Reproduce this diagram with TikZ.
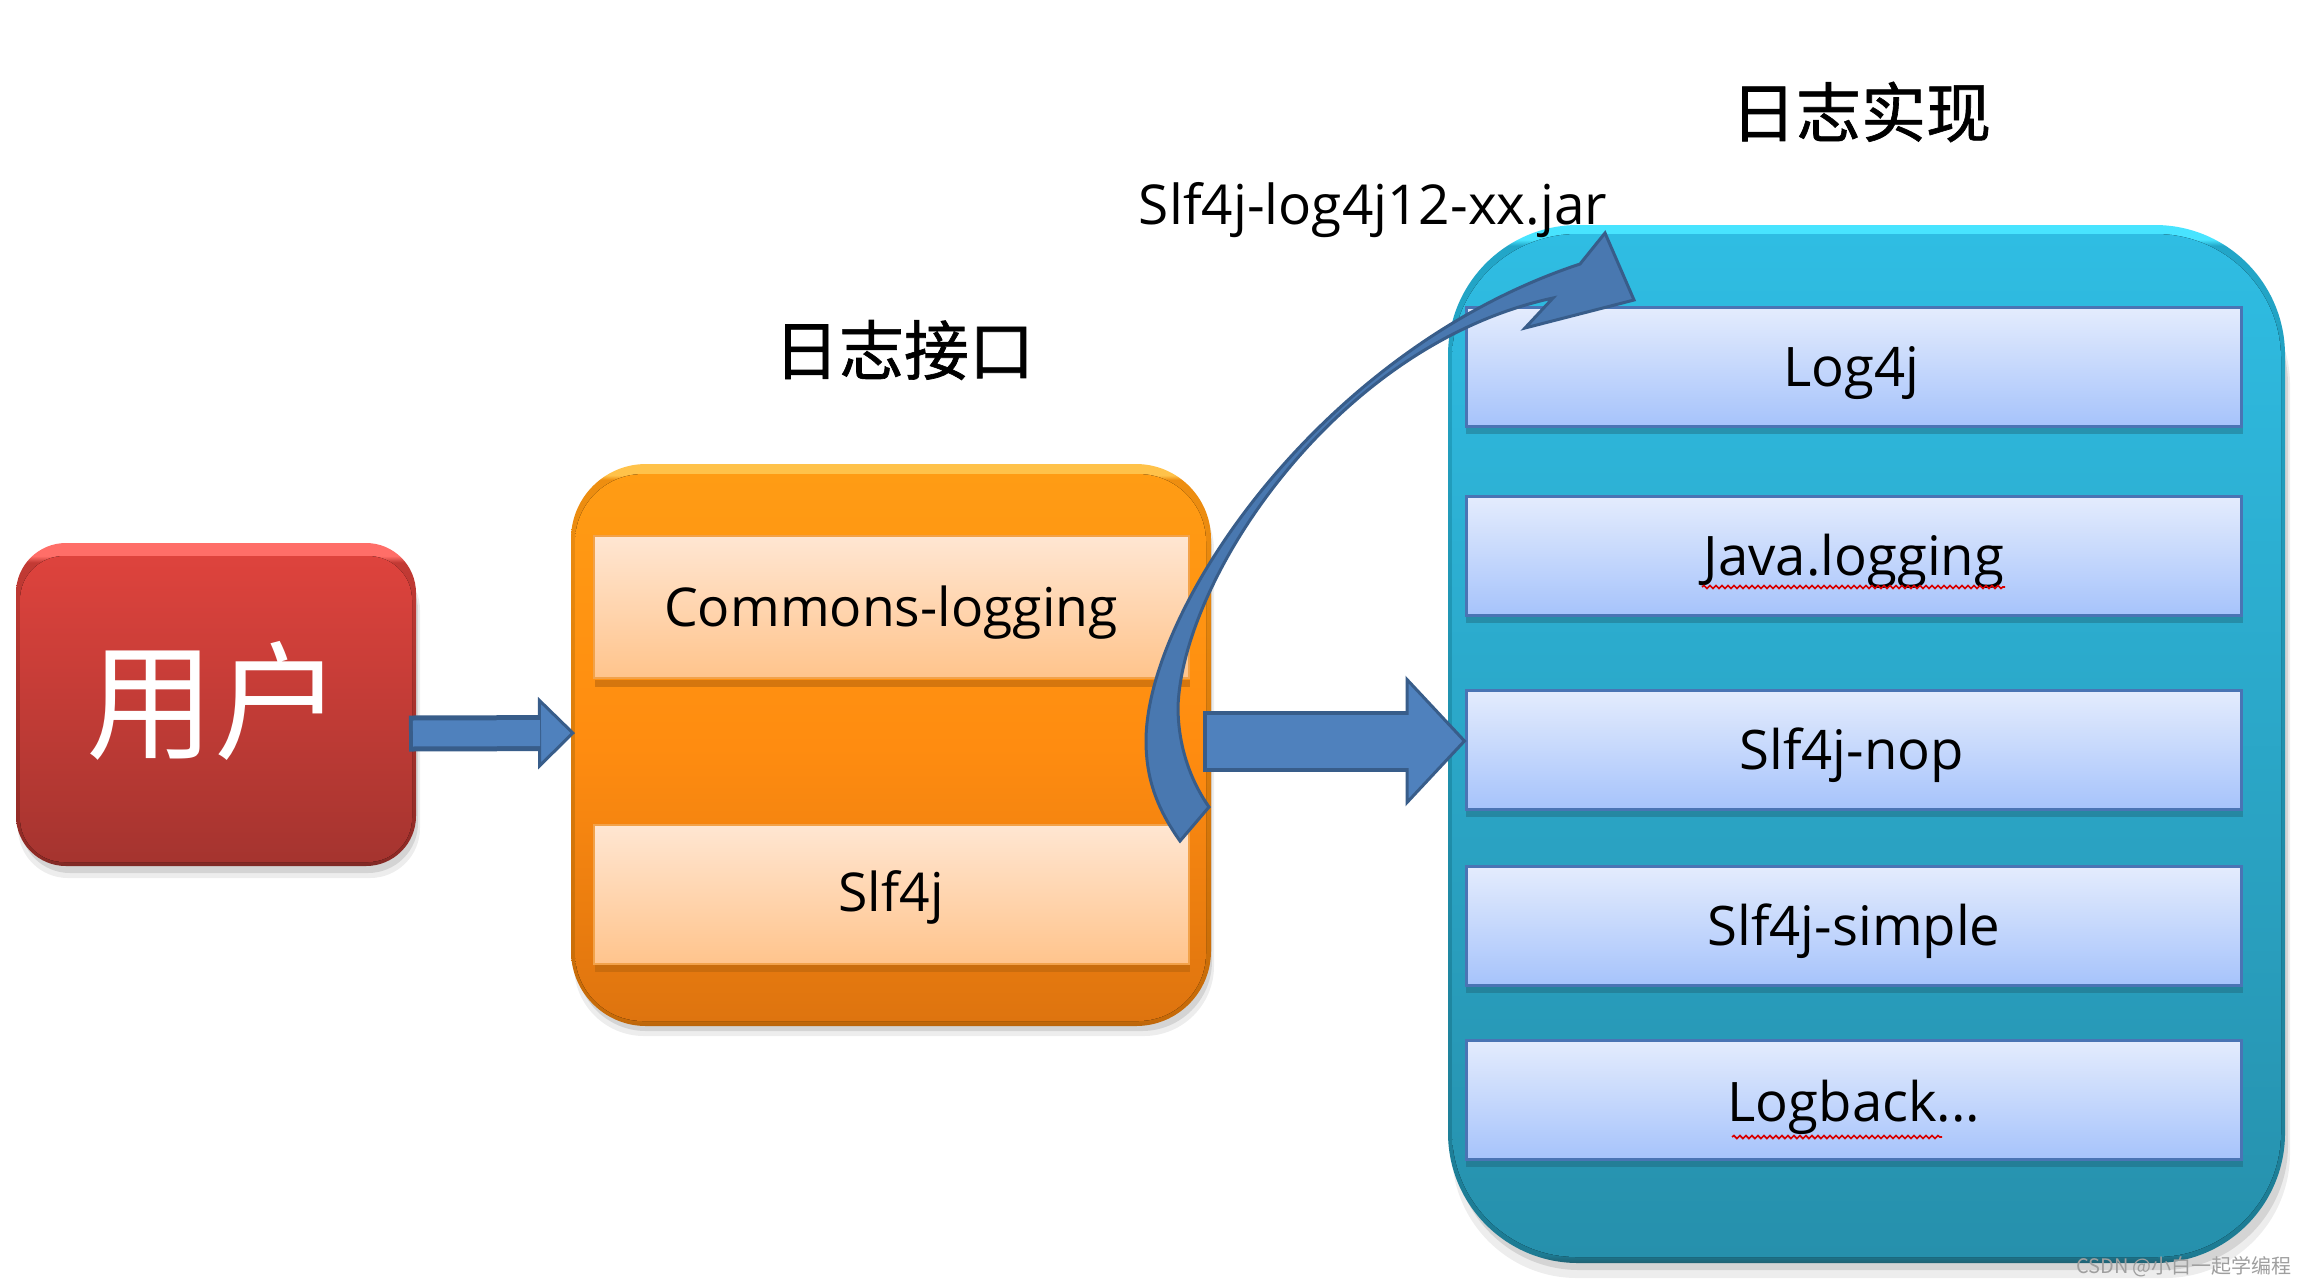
\documentclass[tikz,border=0pt]{standalone}
\usepackage{fontspec}
\setmainfont{Open Sans}
\newfontfamily\cjk{Noto Sans CJK SC}
\newfontfamily\cjkh[FakeBold=1]{Noto Sans CJK SC}
\usetikzlibrary{calc,arrows.meta,decorations.pathmorphing}
\definecolor{arrowfill}{HTML}{4F81BD}
\definecolor{arrowedge}{HTML}{385D8A}
% red
\definecolor{rH}{HTML}{FF6E68}\definecolor{rE}{HTML}{C23A34}\definecolor{rF}{HTML}{8E2A25}\definecolor{rD}{HTML}{7E2A26}
\definecolor{rT}{HTML}{DE433D}\definecolor{rB}{HTML}{A5342F}
% orange
\definecolor{oH}{HTML}{FFC24A}\definecolor{oE}{HTML}{EE8E10}\definecolor{oF}{HTML}{C66A08}\definecolor{oD}{HTML}{B9650C}
\definecolor{oT}{HTML}{FF9C14}\definecolor{oM}{HTML}{FF8C10}\definecolor{oB}{HTML}{DE740F}
% cyan
\definecolor{cH}{HTML}{48E4FF}\definecolor{cE}{HTML}{22A6C8}\definecolor{cF}{HTML}{1D7B93}\definecolor{cD}{HTML}{1F5F70}
\definecolor{cT}{HTML}{2FBDE3}\definecolor{cB}{HTML}{2690AC}
\pgfdeclareverticalshading{redout}{100bp}{color(0bp)=(rD);color(25bp)=(rD);color(26.5bp)=(rF);color(72bp)=(rE);color(73bp)=(rH);color(75bp)=(rH);color(100bp)=(rH)}
\pgfdeclareverticalshading{orgout}{100bp}{color(0bp)=(oD);color(25bp)=(oD);color(25.6bp)=(oF);color(73.6bp)=(oE);color(74bp)=(oH);color(75bp)=(oH);color(100bp)=(oH)}
\pgfdeclareverticalshading{cyaout}{100bp}{color(0bp)=(cD);color(25bp)=(cD);color(25.4bp)=(cF);color(74bp)=(cE);color(74.3bp)=(cH);color(75bp)=(cH);color(100bp)=(cH)}
\definecolor{blueT}{HTML}{E4ECFD}\definecolor{blueB}{HTML}{A6C3FB}\definecolor{blueedge}{HTML}{4A74B4}
\definecolor{peachT}{HTML}{FFE6D2}\definecolor{peachB}{HTML}{FFC48C}\definecolor{peachedge}{HTML}{F2A24A}
\tikzset{
  x=1pt,y=-1pt,
  outerbox/.style={rectangle,draw=none,inner sep=0pt,outer sep=0pt},
  blueitem/.style={rectangle,inner sep=0pt,outer sep=0pt,minimum width=775pt,minimum height=119pt,
     top color=blueT,bottom color=blueB,draw=blueedge,line width=3pt,
     font=\fontsize{54.5}{58}\selectfont,text=black,text height=46pt,text depth=7pt},
  orgitem/.style={rectangle,inner sep=0pt,outer sep=0pt,minimum width=595pt,minimum height=142pt,
     top color=peachT,bottom color=peachB,draw=peachedge,line width=2pt,
     font=\fontsize{53.5}{56}\selectfont,text=black,text height=46pt,text depth=7pt},
  heading/.style={inner sep=0pt,font=\cjkh\fontsize{65}{68}\selectfont,text=black},
  squiggle/.style={draw=red!85!black,line width=1.6pt,decorate,decoration={snake,amplitude=1.5pt,segment length=6pt}},
}
\begin{document}
\begin{tikzpicture}
\useasboundingbox (0,0) rectangle (2306,1286);
\fill[white] (0,0) rectangle (2306,1286);

% --- user box
\coordinate (userpos) at (216,704.5);
\fill[black,opacity=.07,rounded corners=50pt] (18,560) rectangle (420,878);
\fill[black,opacity=.10,rounded corners=50pt] (20,560) rectangle (418,873);
\node[outerbox,minimum width=400pt,minimum height=323pt,rounded corners=50pt,shading=redout] (user) at (userpos) {};
\fill[rounded corners=44pt,top color=rT,bottom color=rB] ($(user.north west)+(4,13)$) rectangle ($(user.south east)+(-4,-4)$);
\node[inner sep=0pt,text=white,font=\cjk\fontsize{128}{132}\selectfont] (userlabel) at (214,701) {用户};

% --- interface group
\coordinate (ifacepos) at (891,745);
\fill[black,opacity=.07,rounded corners=70pt] (574,480) rectangle (1214,1036);
\fill[black,opacity=.10,rounded corners=70pt] (576,480) rectangle (1212,1031);
\node[outerbox,minimum width=640pt,minimum height=562pt,rounded corners=75pt,shading=orgout] (iface) at (ifacepos) {};
\fill[rounded corners=68pt,top color=oT,bottom color=oB,middle color=oM] ($(iface.north west)+(4,10)$) rectangle ($(iface.south east)+(-5,-5)$);

\fill[oD,opacity=.6] (595,680) rectangle (1190,687);
\node[orgitem] (commons) at (891,607) {Commons-logging};
\fill[oD,opacity=.6] (595,965) rectangle (1190,972);
\node[orgitem,minimum height=139pt,text height=43pt,text depth=10pt] (slfapi) at (891,894.5) {Slf4j};

% --- implementation group
\coordinate (implpos) at (1866.5,744);
\fill[black,opacity=.07,rounded corners=125pt] (1452,260) rectangle (2290,1278);
\fill[black,opacity=.10,rounded corners=125pt] (1454,260) rectangle (2288,1270);
\node[outerbox,minimum width=837pt,minimum height=1038pt,rounded corners=130pt,shading=cyaout] (impl) at (implpos) {};
\fill[rounded corners=125pt,top color=cT,bottom color=cB] ($(impl.north west)+(4,9)$) rectangle ($(impl.south east)+(-4,-6)$);

\foreach \yy in {428,617,811,987,1161}{\fill[cD,opacity=.4] (1466,\yy) rectangle (2243,\yy+6);}
\node[blueitem] (log4j) at (1854,367) {\hspace{-5pt}Log4j};
\node[blueitem] (jul) at (1854,556) {Java.logging};
\node[blueitem] (nop) at (1854,750) {\hspace{-5pt}Slf4j-nop};
\node[blueitem] (simple) at (1854,926) {Slf4j-simple};
\node[blueitem,text height=49pt,text depth=6pt] (logback) at (1854,1100) {Logback...};
\draw[squiggle] ($(jul.center)+(-152,31)$) -- ($(jul.center)+(151,31)$);
\draw[squiggle] ($(logback.center)+(-122,37)$) -- ($(logback.center)+(88,37)$);

% --- headings
\node[heading] (h1) at (904,350) {日志接口};
\node[heading] (h2) at (1861,112) {日志实现};
\node[inner sep=0pt,text=black,font=\fontsize{55}{58}\selectfont] (jar) at (1373,210) {Slf4j-log4j12-xx.jar};

% --- straight connectors
\coordinate (a1s) at ($(user.east)+(-7,29)$);
\coordinate (a1e) at ($(iface.west)+(4,-12)$);
\draw[line width=36pt,draw=arrowedge,-{Triangle[length=37pt,width=72pt,line width=3pt,fill=arrowfill]},
  postaction={draw=arrowfill,line width=26pt,-,shorten >=35pt,shorten <=4pt}] (a1s) -- (a1e);
\coordinate (a2s) at ($(iface.east)+(-8,-4)$);
\coordinate (a2e) at ($(nop.west)+(0,-9)$);
\draw[line width=61pt,draw=arrowedge,-{Triangle[length=61pt,width=130pt,line width=3pt,fill=arrowfill]},
  postaction={draw=arrowfill,line width=53pt,-,shorten >=58pt,shorten <=4pt}] (a2s) -- (a2e);

% --- curved arrow
\filldraw[fill=arrowfill!75!arrowedge,draw=arrowedge,line width=3pt,line join=miter]
  (1180,841) .. controls (1158,810) and (1146,780) .. (1146,741)
  .. controls (1146,610) and (1320,350) .. (1580,264)
  -- (1605,233) -- (1634,300) -- (1525,328) -- (1553,298)
  .. controls (1335,345) and (1182,580) .. (1178,707)
  .. controls (1178,745) and (1190,780) .. (1209,807)
  -- cycle;

% --- watermark
\node[inner sep=0pt,text=gray!75,font=\cjk\fontsize{20}{22}\selectfont] (mark) at (2184,1267) {CSDN @小白一起学编程};
\end{tikzpicture}
\end{document}
